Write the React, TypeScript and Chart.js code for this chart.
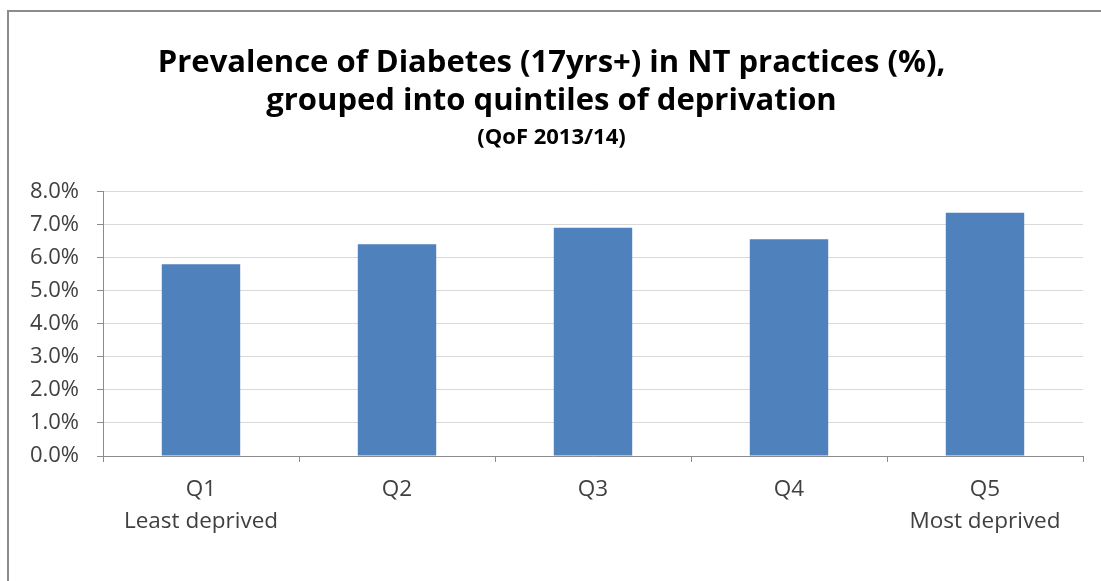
import React, { useEffect, useRef } from "react";
import { Chart, registerables } from "chart.js";

Chart.register(...registerables);

const quintiles = ["Q1", "Q2", "Q3", "Q4", "Q5"];
const subLabels = ["Least deprived", "", "", "", "Most deprived"];
const prevalence = [5.8, 6.4, 6.9, 6.55, 7.35];
const titleLines = [
  "Prevalence of Diabetes (17yrs+) in NT practices (%),",
  "grouped into quintiles of deprivation",
];
const subtitleText = "(QoF 2013/14)";

const FONT = "'Open Sans', Lato, sans-serif";

const framePlugin = {
  id: "frame",
  beforeDraw(chart: any) {
    const ctx = chart.ctx;
    ctx.save();
    ctx.fillStyle = "#ffffff";
    ctx.fillRect(0, 0, chart.width, chart.height);
    ctx.strokeStyle = "#8c8c8c";
    ctx.lineWidth = 2;
    ctx.strokeRect(8, 11, chart.width + 20, chart.height + 20);
    ctx.restore();
  },
};

export default function App() {
  const ref = useRef<HTMLCanvasElement | null>(null);
  useEffect(() => {
    if (!ref.current) return;
    const labels = quintiles.map((q, i) => [q, subLabels[i]]);
    const chart = new Chart(ref.current, {
      type: "bar",
      data: {
        labels,
        datasets: [
          {
            data: prevalence,
            backgroundColor: "#4f81bd",
            borderWidth: 0,
            barPercentage: 0.4,
            categoryPercentage: 1,
          },
        ],
      },
      options: {
        responsive: false,
        animation: false,
        layout: { padding: { top: 10, right: 18, left: 20, bottom: 0 } },
        plugins: {
          legend: { display: false },
          tooltip: { enabled: false },
          title: {
            display: true,
            text: titleLines,
            color: "#000000",
            font: { family: FONT, size: 31, weight: "bold", lineHeight: 1.225 },
            padding: { top: 34, bottom: 0 },
          },
          subtitle: {
            display: true,
            text: subtitleText,
            color: "#000000",
            font: { family: FONT, size: 22, weight: "bold", lineHeight: 1.2 },
            padding: { top: 5, bottom: 40 },
          },
        },
        scales: {
          x: {
            grid: {
              display: true,
              drawOnChartArea: false,
              drawTicks: true,
              tickLength: 6,
              color: "#8c8c8c",
              offset: true,
            },
            border: { display: true, color: "#8c8c8c", width: 1 },
            ticks: {
              color: "#404040",
              font: { family: FONT, size: 22.5, lineHeight: 1.4 },
              padding: 12,
              maxRotation: 0,
              autoSkip: false,
            },
            afterFit(scale: any) {
              scale.height = 125;
            },
          },
          y: {
            min: 0,
            max: 8,
            ticks: {
              stepSize: 1,
              color: "#404040",
              font: { family: FONT, size: 22 },
              padding: 18,
              callback: (v: any) => Number(v).toFixed(1) + "%",
            },
            grid: {
              color: "#d9d9d9",
              tickColor: "#8c8c8c",
              tickLength: 6,
              drawTicks: true,
            },
            border: { display: true, color: "#8c8c8c", width: 1 },
            afterFit(scale: any) {
              scale.width = 83;
            },
          },
        },
      },
      plugins: [framePlugin],
    });
    return () => chart.destroy();
  }, []);
  return (
    <div style={{ position: "absolute", left: 0, top: 0, width: 1101, height: 581 }}>
      <canvas ref={ref} width={1101} height={581} />
    </div>
  );
}
